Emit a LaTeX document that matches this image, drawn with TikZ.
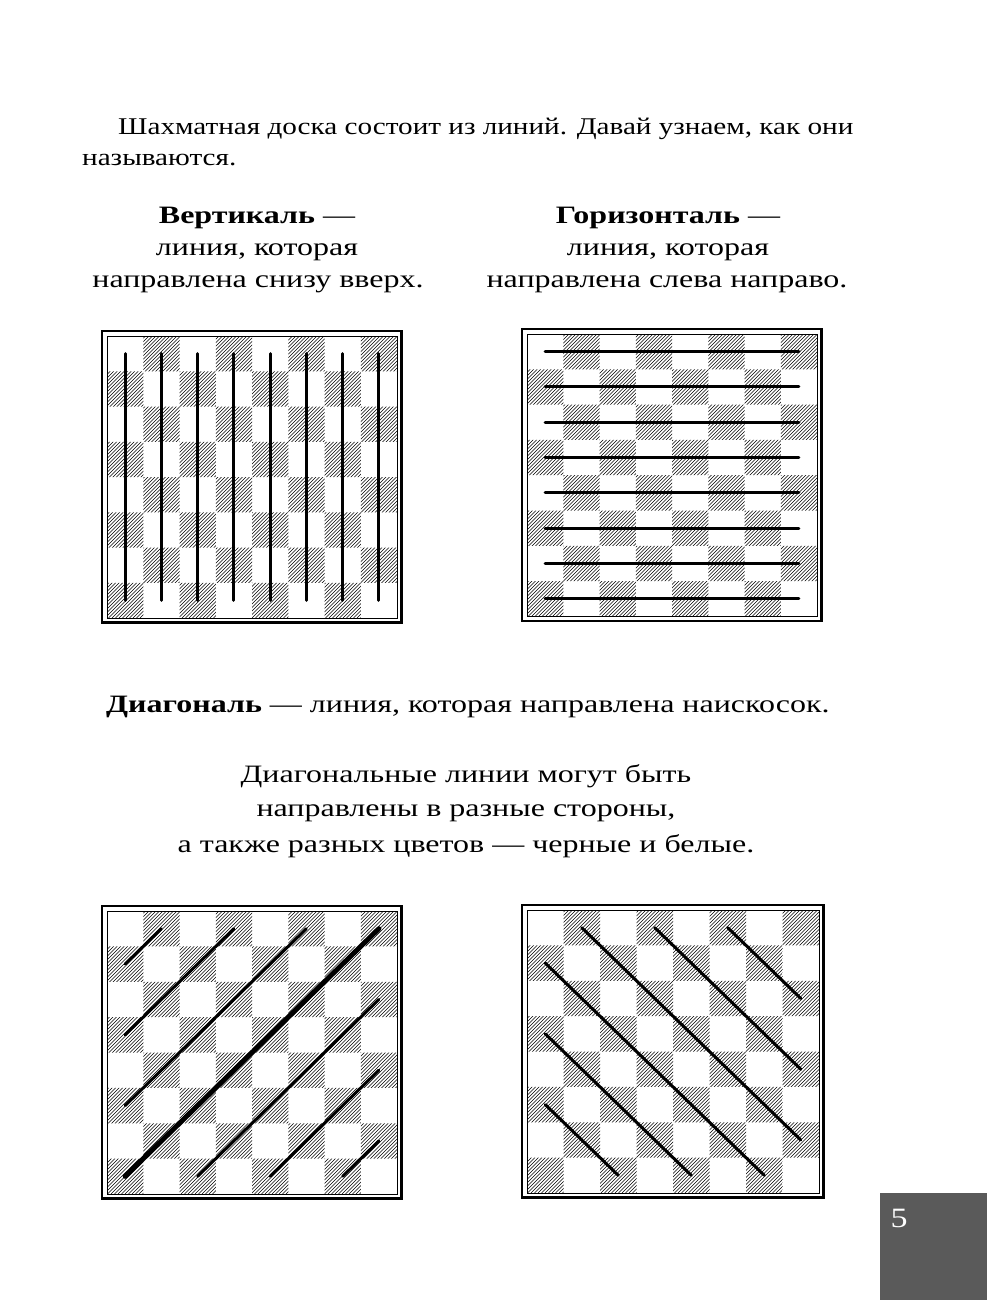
\documentclass[tikz,border=0pt]{standalone}
\usepackage{fontspec}
\setmainfont{Liberation Serif}[FakeStretch=1.215]
\newfontfamily\wideserif{Liberation Serif}[FakeStretch=1.28]
\definecolor{pagegrey}{RGB}{90,90,90}
\tikzset{
  txt/.style={inner sep=0pt, font=\fontsize{24}{30}\selectfont},
  wtxt/.style={inner sep=0pt, font=\wideserif\fontsize{25}{31}\selectfont},
  frameout/.style={line width=2.6pt},
  framein/.style={line width=0.9pt},
  hatch/.style={line width=0.5pt},
  bline/.style={line width=3pt, line cap=round},
  bthick/.style={line width=5pt, line cap=round},
}
% #1 name, #2 inner left, #3 inner top, #4 cell width, #5 cell height
\newcommand{\drawboard}[5]{%
  \begin{scope}
    \clip foreach \r in {0,2,4,6} { foreach \c in {1,3,5,7} { ({#2+\c*#4},{#3+\r*#5}) rectangle ++(#4,#5) } }
          foreach \r in {1,3,5,7} { foreach \c in {0,2,4,6} { ({#2+\c*#4},{#3+\r*#5}) rectangle ++(#4,#5) } };
    \foreach \k in {0,...,170} \draw[hatch] ({#2+\k*3.5-8*#5},{#3+8*#5}) -- ++({8*#5},{-8*#5});
  \end{scope}
  \draw[framein] (#2,#3) rectangle ++({8*#4},{8*#5});
  \draw[frameout] ({#2-5},{#3-5}) rectangle ({#2+8*#4+4.5},{#3+8*#5+4.5});
  \foreach \r in {0,...,7} \foreach \c in {0,...,7}
    \coordinate (#1-\r-\c) at ({#2+(\c+0.5)*#4},{#3+(\r+0.5)*#5});
}
\begin{document}
\begin{tikzpicture}[x=1pt,y=-1pt]
\useasboundingbox (0,0) rectangle (987,1300);

% texts
\node[txt, anchor=base west] (intro1) at (118,135) {Шахматная доска состоит из линий. Давай узнаем, как они};
\node[txt, anchor=base west] (intro2) at (82,166) {называются.};
\node[wtxt, anchor=base] (vt1) at (257,223) {\textbf{Вертикаль} —};
\node[wtxt, anchor=base] (vt2) at (257,255) {линия, которая};
\node[wtxt, anchor=base] (vt3) at (258,287) {направлена снизу вверх.};
\node[wtxt, anchor=base] (hz1) at (668,223) {\textbf{Горизонталь} —};
\node[wtxt, anchor=base] (hz2) at (668,255) {линия, которая};
\node[wtxt, anchor=base] (hz3) at (667,287) {направлена слева направо.};
\node[wtxt, anchor=base west] (dg) at (106,712) {\textbf{Диагональ} — линия, которая направлена наискосок.};
\node[wtxt, anchor=base] (p1) at (466,782) {Диагональные линии могут быть};
\node[wtxt, anchor=base] (p2) at (466,816) {направлены в разные стороны,};
\node[wtxt, anchor=base] (p3) at (466,852) {а также разных цветов — черные и белые.};

% boards
\drawboard{A}{107}{336}{36.25}{35.25}
\drawboard{B}{527}{334}{36.25}{35.3}
\drawboard{C}{107}{911}{36.25}{35.375}
\drawboard{D}{527}{910}{36.5}{35.375}

% verticals
\foreach \c in {0,...,7} \draw[bline] (A-0-\c) -- (A-7-\c);
% horizontals
\foreach \r in {0,...,7} \draw[bline] (B-\r-0) -- (B-\r-7);
% diagonals, board C
\draw[bline] (C-1-0) -- (C-0-1);
\draw[bline] (C-3-0) -- (C-0-3);
\draw[bline] (C-5-0) -- (C-0-5);
\draw[bthick] (C-7-0) -- (C-0-7);
\draw[bline] (C-7-2) -- (C-2-7);
\draw[bline] (C-7-4) -- (C-4-7);
\draw[bline] (C-7-6) -- (C-6-7);
% diagonals, board D
\draw[bline] (D-0-1) -- (D-6-7);
\draw[bline] (D-0-3) -- (D-4-7);
\draw[bline] (D-0-5) -- (D-2-7);
\draw[bline] (D-1-0) -- (D-7-6);
\draw[bline] (D-3-0) -- (D-7-4);
\draw[bline] (D-5-0) -- (D-7-2);

% page number
\fill[pagegrey] (880,1193) rectangle (987,1300);
\node[inner sep=0pt, text=white, anchor=base, font=\fontsize{28}{32}\selectfont] (pnum) at (899,1227) {5};
\end{tikzpicture}
\end{document}
